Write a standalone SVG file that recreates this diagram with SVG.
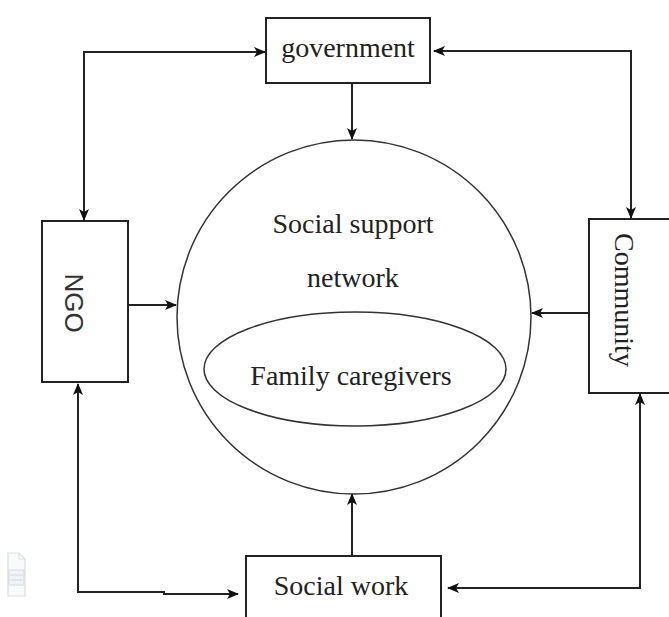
<svg xmlns="http://www.w3.org/2000/svg" width="669" height="617" viewBox="0 0 669 617">
  <defs>
    <marker id="arr" viewBox="0 0 12 10" refX="11" refY="5" markerWidth="12" markerHeight="10" markerUnits="userSpaceOnUse" orient="auto-start-reverse">
      <path d="M0,0 L12,5 L0,10 L3,5 Z" fill="#111"/>
    </marker>
    <style>
      .box { fill: #fff; stroke: #222; stroke-width: 2; }
      .shape { fill: none; stroke: #333; stroke-width: 1.5; }
      .conn { fill: none; stroke: #222; stroke-width: 2; }
      .t { font-family: "Liberation Serif", "Times New Roman", serif; font-size: 28px; fill: #222; text-anchor: middle; }
      .ts { font-family: "Liberation Sans", Arial, sans-serif; font-size: 26px; fill: #333; text-anchor: middle; }
    </style>
  </defs>
  <rect width="669" height="617" fill="#fff"/>

  <!-- faint document icon -->
  <g id="icon" opacity="0.5">
    <path d="M8,553 H19 L25,559 V596 H8 Z" fill="#f4f6f9" stroke="#b9bec8" stroke-width="1.2"/>
    <path d="M19,553 V559 H25" fill="none" stroke="#b9bec8" stroke-width="1"/>
    <rect x="9" y="570" width="15" height="15" fill="#e4e9f2" stroke="#aab3c4" stroke-width="1"/>
    <line x1="10" y1="575" x2="23" y2="575" stroke="#aab3c4" stroke-width="1"/>
    <line x1="10" y1="580" x2="23" y2="580" stroke="#aab3c4" stroke-width="1"/>
  </g>

  <g id="connectors">
    <path class="conn" d="M84,220 V52 H265" marker-start="url(#arr)" marker-end="url(#arr)"/>
    <path class="conn" d="M631,218 V51 H434" marker-start="url(#arr)" marker-end="url(#arr)"/>
    <path class="conn" d="M352,83 V139" marker-end="url(#arr)"/>
    <path class="conn" d="M128,305 H176" marker-end="url(#arr)"/>
    <path class="conn" d="M589,313 H532" marker-end="url(#arr)"/>
    <path class="conn" d="M352,556 V494" marker-end="url(#arr)"/>
    <path class="conn" d="M78,384 V592 H164 V594 H238" marker-start="url(#arr)" marker-end="url(#arr)"/>
    <path class="conn" d="M640,394 V588 H448" marker-start="url(#arr)" marker-end="url(#arr)"/>
  </g>

  <g id="government">
    <rect class="box" x="266" y="18" width="164" height="65"/>
    <text class="t" x="348" y="57">government</text>
  </g>

  <g id="social-support-network">
    <ellipse class="shape" cx="354" cy="317" rx="177" ry="177"/>
    <text class="t" x="353" y="233">Social support</text>
    <text class="t" x="353" y="287">network</text>
  </g>

  <g id="family-caregivers">
    <ellipse class="shape" cx="355" cy="369" rx="151" ry="57"/>
    <text class="t" x="351" y="385">Family caregivers</text>
  </g>

  <g id="ngo">
    <rect class="box" x="42" y="221" width="86" height="161"/>
    <text class="ts" transform="translate(65,303) rotate(90)">NGO</text>
  </g>

  <g id="community">
    <rect class="box" x="589" y="219" width="95" height="174"/>
    <text class="t" transform="translate(615,300) rotate(90)">Community</text>
  </g>

  <g id="social-work">
    <rect class="box" x="246" y="556" width="195" height="70"/>
    <text class="t" x="341" y="595">Social work</text>
  </g>
</svg>
